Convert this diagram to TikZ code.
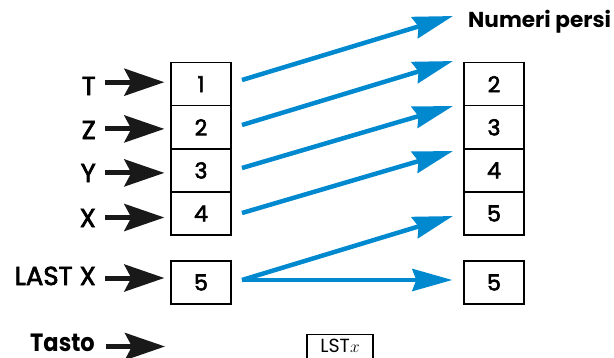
\documentclass[tikz,border=0pt]{standalone}
\usepackage{fontspec}
\setmainfont{Poppins}
\newfontfamily\medfont[FakeBold=2.6]{Poppins}
\newfontfamily\bldfont[FakeStretch=0.9]{Poppins Bold}
\usetikzlibrary{arrows.meta}
\definecolor{hpblue}{RGB}{0,137,206}
\tikzset{
  reg/.style={draw=black, line width=1.3pt, minimum width=60pt, minimum height=43.1pt, inner sep=0pt,
    font=\medfont\fontsize{22}{24}\selectfont},
  lab/.style={anchor=base east, inner sep=0pt, font=\medfont\fontsize{26}{28}\selectfont},
  blk/.style={line width=5pt, -{Stealth[length=40pt,width=27pt,inset=7pt]}, black!90},
  blu/.style={line width=4.5pt, hpblue, -{Stealth[length=40pt,width=22pt,inset=4pt]}, shorten >=0pt}
}
\begin{document}
\begin{tikzpicture}[x=1pt,y=-1pt]
\useasboundingbox (0,0) rectangle (614,357);
% left stack
\node[reg] (b1) at (201,84.2) {1};
\node[reg] (b2) at (201,127.3) {2};
\node[reg] (b3) at (201,170.4) {3};
\node[reg] (b4) at (201,213.5) {4};
\node[reg] (b5) at (201,282.5) {5};
% right stack
\node[reg] (r2) at (494,84.2) {2};
\node[reg] (r3) at (494,127.3) {3};
\node[reg] (r4) at (494,170.4) {4};
\node[reg] (r5) at (494,213.5) {5};
\node[reg] (r6) at (494,282.5) {5};
% labels
\node[lab] (lT) at (96,95) {T};
\node[lab] (lZ) at (96,139) {Z};
\node[lab] (lY) at (96,182) {Y};
\node[lab] (lX) at (96,227) {X};
\node[lab] (lL) at (96,285) {LAST X};
\node[lab, font=\bldfont\fontsize{25}{28}\selectfont] (lK) at (95,351.5) {Tasto};
\node[anchor=base west, inner sep=0pt, font=\bfseries\fontsize{21.6}{24}\selectfont] (np) at (468,27) {Numeri persi};
\node[draw=black, line width=1.1pt, minimum width=66pt, inner sep=0pt, text height=18pt, text depth=8pt,
  anchor=base, font=\fontsize{19}{20}\selectfont] (key) at (340,352.5) {LST$x$};
% black arrows
\draw[blk] ([xshift=-65pt,yshift=2pt]b1.west) -- ([xshift=-6pt,yshift=2pt]b1.west);
\draw[blk] ([xshift=-65pt,yshift=-1.6pt]b2.west) -- ([xshift=-6pt,yshift=-1.6pt]b2.west);
\draw[blk] ([xshift=-65pt,yshift=-2.5pt]b3.west) -- ([xshift=-6pt,yshift=-2.5pt]b3.west);
\draw[blk] ([xshift=-65pt,yshift=-4pt]b4.west) -- ([xshift=-6pt,yshift=-4pt]b4.west);
\draw[blk] ([xshift=-65pt,yshift=4.5pt]b5.west) -- ([xshift=-6pt,yshift=4.5pt]b5.west);
\draw[blk] ([xshift=11pt]lK.east |- 0,346.5) coordinate (kt) -- ++(59,0) coordinate (kh);
% blue arrows
\coordinate (s1) at (242,80);
\coordinate (s2) at (242,125);
\coordinate (s3) at (242,168);
\coordinate (s4) at (242,213);
\coordinate (s5) at (242,280);
\coordinate (t1) at (453,16);
\coordinate (t2) at (453,61);
\coordinate (t3) at (453,106);
\coordinate (t4) at (453,151);
\coordinate (t5) at (453,216);
\draw[blu] (s1) -- (t1);
\draw[blu] (s2) -- (t2);
\draw[blu] (s3) -- (t3);
\draw[blu] (s4) -- (t4);
\draw[blu] (s5) -- (t5);
\draw[blu] (s5) -- ([xshift=-11pt]r6.west |- s5);
\end{tikzpicture}
\end{document}
